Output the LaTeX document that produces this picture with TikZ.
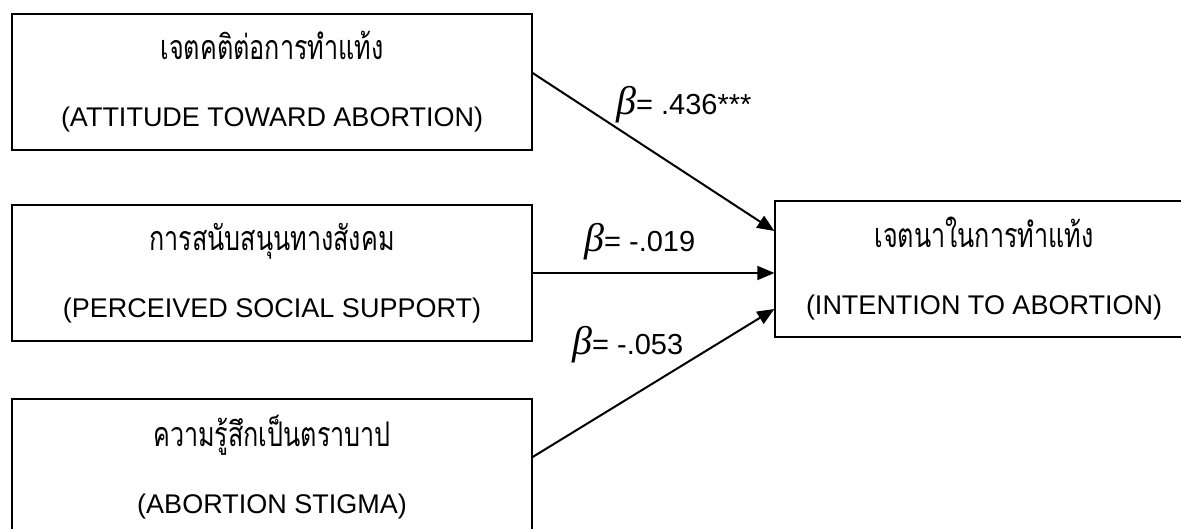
\documentclass[tikz,border=0pt]{standalone}
\usepackage{fontspec}
\setmainfont{Liberation Sans}
\newfontfamily\thaifont[Script=Thai,FakeStretch=0.74]{Loma}
\newfontfamily\betafont{Liberation Serif}
\usetikzlibrary{arrows.meta,positioning}
\newcommand{\myBeta}{{\betafont\itshape\fontsize{40}{40}\selectfont β}}
\newcommand{\myThai}[1]{{\thaifont\fontsize{34}{67}\selectfont #1}}

\begin{document}
\begin{tikzpicture}[x=1pt,y=-1pt,>={Triangle[length=17pt,width=14pt]},
	Arrow/.style={->,black,line width=2pt},
	Box/.style={rectangle,draw=black,line width=1.3pt,inner sep=0pt,minimum height=136pt,align=center,font=\fontsize{27}{67}\selectfont},
	Coef/.style={anchor=base west,inner sep=0pt,font=\fontsize{29}{29}\selectfont},
]
	\path[use as bounding box,clip] (0,0) rectangle (1181,529);
	\node[Box,minimum width=520pt] (A) at (272,82) {\myThai{เจตคติต่อการทำแท้ง}\\(ATTITUDE TOWARD ABORTION)};
	\node[Box,minimum width=520pt] (B) at (272,273) {\myThai{การสนับสนุนทางสังคม}\\(PERCEIVED SOCIAL SUPPORT)};
	\node[Box,minimum width=520pt] (C) at (272,467) {\myThai{ความรู้สึกเป็นตราบาป}\\(ABORTION STIGMA)};
	\node[Box,minimum width=418pt] (D) at (984,269) {\myThai{เจตนาในการทำแท้ง}\\(INTENTION TO ABORTION)};
	
	\node[Coef] (b1) at (616,115) {\myBeta= .436***};
	\node[Coef] (b2) at (584,252) {\myBeta= -.019};
	\node[Coef] (b3) at (572,355) {\myBeta= -.053};
	
	\path[Arrow]
	([yshift=9pt]A.east) edge ([yshift=38pt]D.west)
	(B.east) edge (B.east -| D.west)
	([yshift=10pt]C.east) edge ([yshift=-40pt]D.west)
	;
\end{tikzpicture}
\end{document}
